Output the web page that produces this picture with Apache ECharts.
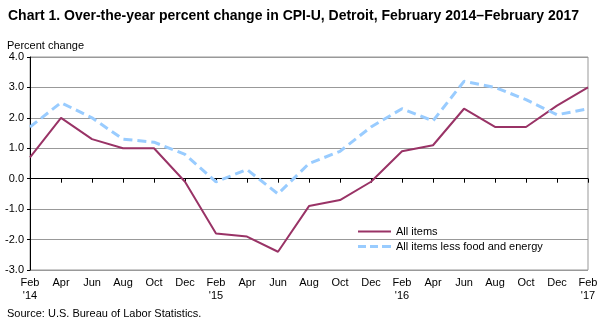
<!DOCTYPE html>
<html><head><meta charset="utf-8">
<script src="https://cdn.jsdelivr.net/npm/echarts@6/dist/echarts.min.js"></script>
<style>html,body{margin:0;padding:0;background:#fff}#c{width:607px;height:326px}</style>
</head><body><div id="c"></div>
<script>
const categories = ["Feb\n'14","Apr","Jun","Aug","Oct","Dec","Feb\n'15","Apr","Jun","Aug","Oct","Dec","Feb\n'16","Apr","Jun","Aug","Oct","Dec","Feb\n'17"];
const allItems = [0.7,2.0,1.3,1.0,1.0,-0.1,-1.8,-1.9,-2.4,-0.9,-0.7,-0.1,0.9,1.1,2.3,1.7,1.7,2.4,3.0];
const lessFoodEnergy = [1.7,2.5,2.0,1.3,1.2,0.8,-0.1,0.3,-0.5,0.5,0.9,1.7,2.3,1.9,3.2,3.0,2.6,2.1,2.3];
const yTicks = {min:-3, max:4, interval:1};
const font = "'Liberation Sans', Arial, sans-serif";
const chart = echarts.init(document.getElementById('c'), null, {renderer:'canvas'});
chart.setOption({
  animation:false,
  textStyle:{fontFamily:font},
  title:[
    {text:'Chart 1. Over-the-year percent change in CPI-U, Detroit, February 2014\u2013February 2017', left:8, top:9, padding:0,
     textStyle:{fontFamily:font, fontSize:14, fontWeight:'bold', color:'#000'}},
    {text:'Percent change', left:7, top:40, padding:0, textStyle:{fontFamily:font, fontSize:11, fontWeight:'normal', color:'#000'}},
    {text:'Source: U.S. Bureau of Labor Statistics.', left:7, top:308, padding:0, textStyle:{fontFamily:font, fontSize:11, fontWeight:'normal', color:'#000'}}
  ],
  grid:{left:30, right:19, top:57, bottom:56, show:true, borderColor:'#999', borderWidth:1},
  legend:{
    orient:'vertical', left:353, top:221, itemGap:4, itemWidth:33, itemHeight:12,
    textStyle:{fontFamily:font, fontSize:11, color:'#000'},
    data:[{name:'All items', icon:'path://M0,0 L33,0 L33,2 L0,2 Z'},{name:'All items less food and energy', icon:'path://M0,0 L8,0 L8,3 L0,3 Z M12,0 L20,0 L20,3 L12,3 Z M24,0 L33,0 L33,3 L24,3 Z'}]
  },
  xAxis:{
    type:'category', data:categories, boundaryGap:false,
    axisLine:{lineStyle:{color:'#000', width:1}},
    axisTick:{show:true, length:4, inside:false, lineStyle:{color:'#000'}},
    axisLabel:{fontFamily:font, fontSize:11, color:'#000', margin:6, interval:0, lineHeight:13},
    splitLine:{show:false}
  },
  yAxis:{
    type:'value', min:yTicks.min, max:yTicks.max, interval:yTicks.interval,
    axisLine:{show:true, lineStyle:{color:'#000'}},
    axisTick:{show:true, length:3, lineStyle:{color:'#000'}},
    axisLabel:{fontFamily:font, fontSize:11, color:'#000', margin:6, formatter:v=>v.toFixed(1)},
    splitLine:{show:true, lineStyle:{color:'#999', width:1}}
  },
  series:[
    {name:'All items', type:'line', data:allItems, symbol:'none', itemStyle:{color:'#993366'},
     lineStyle:{color:'#993366', width:2}},
    {name:'All items less food and energy', type:'line', data:lessFoodEnergy, symbol:'none', itemStyle:{color:'#99CCFF'},
     lineStyle:{color:'#99CCFF', width:3, type:[9,5]}}
  ]
});
</script></body></html>
